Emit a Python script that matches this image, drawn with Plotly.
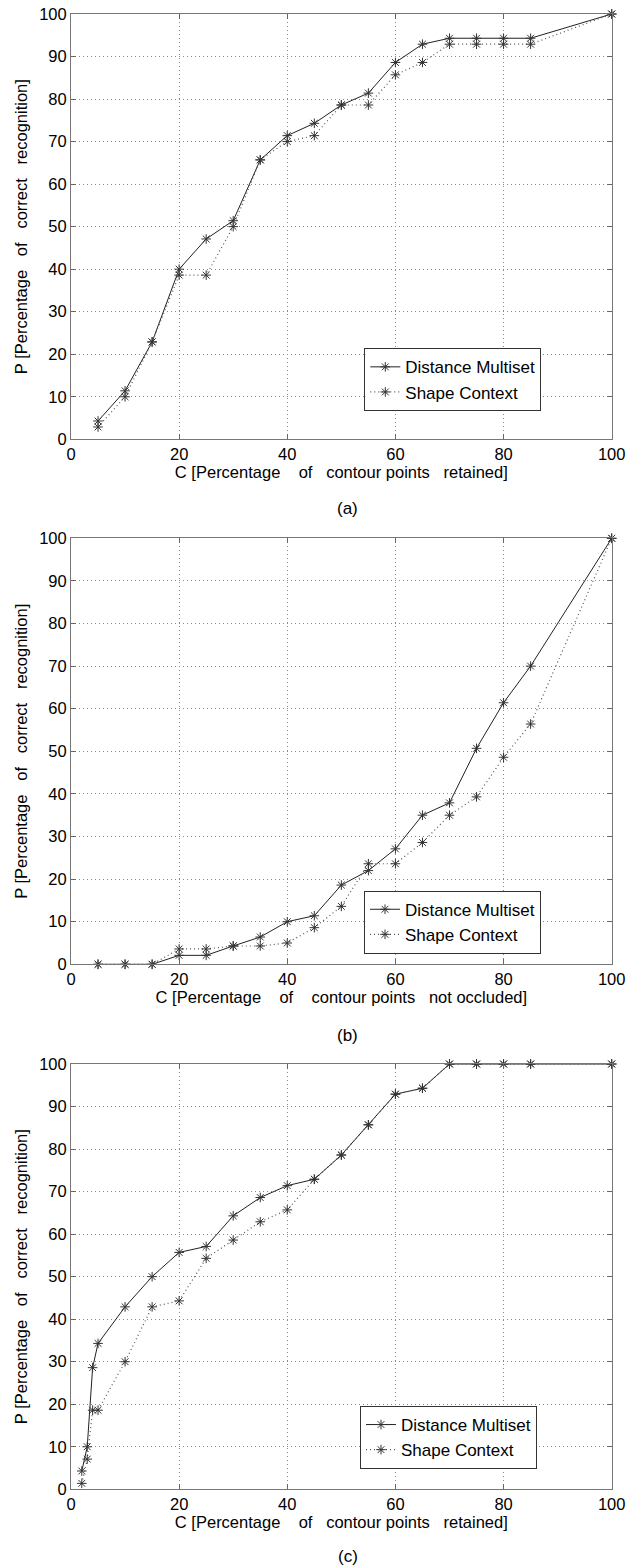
import plotly.graph_objects as go

# ---------------- data ----------------
x_a = [5, 10, 15, 20, 25, 30, 35, 40, 45, 50, 55, 60, 65, 70, 75, 80, 85, 100]
dm_a = [4.3, 11.4, 22.9, 40.0, 47.1, 51.4, 65.7, 71.4, 74.3, 78.6, 81.4, 88.6, 92.9, 94.3, 94.3, 94.3, 94.3, 100]
sc_a = [2.9, 10.0, 22.9, 38.6, 38.6, 50.0, 65.7, 70.0, 71.4, 78.6, 78.6, 85.7, 88.6, 92.9, 92.9, 92.9, 92.9, 100]

x_b = [5, 10, 15, 20, 25, 30, 35, 40, 45, 50, 55, 60, 65, 70, 75, 80, 85, 100]
dm_b = [0, 0, 0, 2.1, 2.1, 4.3, 6.4, 10.0, 11.4, 18.6, 22.0, 27.1, 35.0, 37.9, 50.7, 61.4, 70.0, 100]
sc_b = [0, 0, 0, 3.6, 3.6, 4.3, 4.3, 5.0, 8.6, 13.6, 23.6, 23.6, 28.6, 35.0, 39.3, 48.6, 56.4, 100]

x_c = [2, 3, 4, 5, 10, 15, 20, 25, 30, 35, 40, 45, 50, 55, 60, 65, 70, 75, 80, 85, 100]
dm_c = [4.3, 10.0, 28.6, 34.3, 42.9, 50.0, 55.7, 57.1, 64.3, 68.6, 71.4, 72.9, 78.6, 85.7, 92.9, 94.3, 100, 100, 100, 100, 100]
sc_c = [1.4, 7.1, 18.6, 18.6, 30.0, 42.9, 44.3, 54.3, 58.6, 62.9, 65.7, 72.9, 78.6, 85.7, 92.9, 94.3, 100, 100, 100, 100, 100]

series_names = ["Distance Multiset", "Shape Context"]
x_ticks = [0, 20, 40, 60, 80, 100]
y_ticks = [0, 10, 20, 30, 40, 50, 60, 70, 80, 90, 100]

NB = "\u00a0"
y_title = "P [Percentage" + NB * 3 + "of" + NB * 3 + "correct" + NB * 3 + "recognition]"
x_titles = [
    "C [Percentage" + NB * 4 + "of" + NB * 3 + "contour points" + NB * 3 + "retained]",
    "C [Percentage" + NB * 4 + "of" + NB * 4 + "contour points" + NB * 3 + "not occluded]",
    "C [Percentage" + NB * 4 + "of" + NB * 3 + "contour points" + NB * 3 + "retained]",
]
panel_labels = ["(a)", "(b)", "(c)"]

# ---------------- layout geometry ----------------
W, H = 630, 1568
X_LEFT, X_RIGHT = 71, 611.7
panels_px = [(14, 439.3), (538.3, 964.3), (1064, 1489.3)]
legend_px = [(364.3, 348.3), (364, 890.7), (360, 1406)]
label_y_px = [508, 1035, 1556]

FONT = "Liberation Sans, Arial, Helvetica, sans-serif"

fig = go.Figure()

data = [(x_a, dm_a, sc_a), (x_b, dm_b, sc_b), (x_c, dm_c, sc_c)]

layout_updates = {}
annotations = []
for i, (xs, dm, sc) in enumerate(data):
    sfx = "" if i == 0 else str(i + 1)
    leg = "legend" + sfx
    fig.add_trace(go.Scatter(
        x=xs, y=dm, mode="lines+markers", name=series_names[0],
        xaxis="x" + sfx, yaxis="y" + sfx, legend=leg,
        line=dict(color="#222222", width=1),
        marker=dict(symbol="asterisk-open", size=8, color="#333333",
                    line=dict(color="#333333", width=1)),
        cliponaxis=False,
    ))
    fig.add_trace(go.Scatter(
        x=xs, y=sc, mode="lines+markers", name=series_names[1],
        xaxis="x" + sfx, yaxis="y" + sfx, legend=leg,
        line=dict(color="#555555", width=1.2, dash="1px,3px"),
        marker=dict(symbol="asterisk-open", size=8, color="#333333",
                    line=dict(color="#333333", width=1)),
        cliponaxis=False,
    ))
    top, bot = panels_px[i]
    common = dict(
        range=[0, 100], ticks="inside", ticklen=5, tickcolor="#666666",
        showline=True, linecolor="#777777", linewidth=1, mirror="ticks",
        showgrid=True, gridcolor="#888888", griddash="1px,3px", gridwidth=1,
        zeroline=False, tickfont=dict(family=FONT, size=16.5, color="black"),
        automargin=False, fixedrange=True,
    )
    layout_updates["xaxis" + sfx] = dict(
        common, domain=[X_LEFT / W, X_RIGHT / W], anchor="y" + sfx,
        tickvals=x_ticks,
        title=dict(text=x_titles[i], font=dict(family=FONT, size=16.5, color="black"), standoff=2),
    )
    layout_updates["yaxis" + sfx] = dict(
        common, domain=[1 - bot / H, 1 - top / H], anchor="x" + sfx,
        tickvals=y_ticks,
        title=dict(text=y_title, font=dict(family=FONT, size=16.5, color="black"), standoff=7),
    )
    lx, ly = legend_px[i]
    layout_updates[leg] = dict(
        x=lx / W, y=1 - ly / H, xanchor="left", yanchor="top",
        bgcolor="white", bordercolor="#333333", borderwidth=1,
        font=dict(family=FONT, size=17, color="black"),
        tracegroupgap=0, itemwidth=30,
    )
    annotations.append(dict(
        text=panel_labels[i], xref="paper", yref="paper",
        x=(X_LEFT + X_RIGHT) / 2 / W + 0.01, y=1 - label_y_px[i] / H,
        xanchor="center", yanchor="middle", showarrow=False,
        font=dict(family=FONT, size=17, color="black"),
    ))

fig.update_layout(
    width=W, height=H, margin=dict(l=0, r=0, t=0, b=0),
    template="none", paper_bgcolor="white", plot_bgcolor="white",
    showlegend=True, annotations=annotations, **layout_updates,
)

fig.write_html(
    "out.html",
    config={"displayModeBar": False, "staticPlot": True},
    post_script="document.body.style.margin='0';document.body.style.padding='0';document.body.style.overflow='hidden';",
)
